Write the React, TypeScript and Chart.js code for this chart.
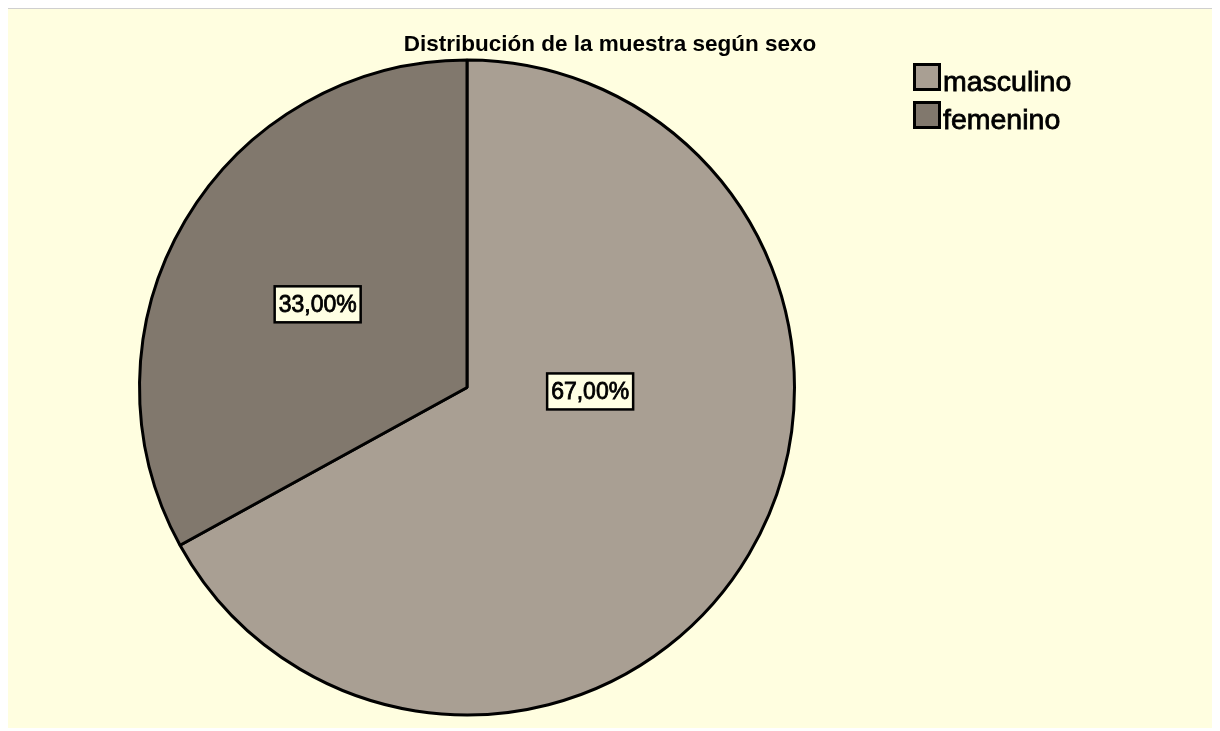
import React, { useEffect, useRef } from "react";
import { Chart, registerables } from "chart.js";

Chart.register(...registerables);

const categories = ["masculino", "femenino"];
const values = [67, 33];
const valueLabels = ["67,00%", "33,00%"];
const titleText = "Distribución de la muestra según sexo";

const sliceColors = ["#A99F93", "#81786D"];
const bgColor = "#FFFEE0";
// label anchor offsets in units of pie radius from the pie centre
const labelOffsets = [
  { dx: 0.376, dy: 0.012 },
  { dx: -0.456, dy: -0.254 },
];

const overlayPlugin = {
  id: "overlay",
  afterDatasetsDraw(chart: any) {
    const ctx = chart.ctx as CanvasRenderingContext2D;
    const meta = chart.getDatasetMeta(0);
    const arc0 = meta.data[0] as any;
    const cx = arc0.x;
    const cy = arc0.y;
    const r = arc0.outerRadius;
    ctx.save();
    // value labels
    ctx.font = "23px Arial, 'Liberation Sans', sans-serif";
    ctx.textAlign = "center";
    ctx.textBaseline = "middle";
    valueLabels.forEach((txt, i) => {
      const x = cx + labelOffsets[i].dx * r;
      const y = cy + labelOffsets[i].dy * r;
      const w = ctx.measureText(txt).width + 8;
      const h = 36;
      ctx.fillStyle = "#FFFFE3";
      ctx.fillRect(x - w / 2, y - h / 2, w, h);
      ctx.lineWidth = 2.5;
      ctx.strokeStyle = "#000";
      ctx.strokeRect(x - w / 2, y - h / 2, w, h);
      ctx.fillStyle = "#000";
      ctx.lineWidth = 0.8;
      ctx.fillText(txt, x, y + 1);
      ctx.strokeText(txt, x, y + 1);
    });
    // title
    ctx.font = "bold 22.5px Arial, 'Liberation Sans', sans-serif";
    ctx.textAlign = "center";
    ctx.textBaseline = "alphabetic";
    ctx.fillStyle = "#000";
    ctx.fillText(titleText, 602, 42);
    // legend
    ctx.font = "28.5px Arial, 'Liberation Sans', sans-serif";
    ctx.textAlign = "left";
    categories.forEach((c, i) => {
      const by = 54 + i * 38;
      ctx.fillStyle = sliceColors[i];
      ctx.fillRect(905, by, 28, 28);
      ctx.lineWidth = 3;
      ctx.strokeStyle = "#000";
      ctx.strokeRect(906.5, by + 1.5, 25, 25);
      ctx.fillStyle = "#000";
      ctx.lineWidth = 0.8;
      ctx.fillText(c, 935, by + 28);
      ctx.strokeText(c, 935, by + 28);
    });
    ctx.restore();
  },
};

export default function App() {
  const ref = useRef<HTMLCanvasElement | null>(null);
  useEffect(() => {
    if (!ref.current) return;
    const chart = new Chart(ref.current, {
      type: "pie",
      data: {
        labels: categories,
        datasets: [
          {
            data: values,
            backgroundColor: sliceColors,
            borderColor: "#000",
            borderWidth: 3,
          },
        ],
      },
      options: {
        animation: false,
        responsive: false,
        layout: { padding: { left: 130, top: 49, right: 419, bottom: 11 } },
        plugins: {
          legend: { display: false },
          title: { display: false },
          tooltip: { enabled: false },
        },
      },
      plugins: [overlayPlugin],
    });
    return () => chart.destroy();
  }, []);
  return (
    <div
      style={{
        width: 1207,
        height: 719,
        background: bgColor,
        borderTop: "1px solid #cfcfcf",
      }}
    >
      <canvas ref={ref} width={1207} height={719} style={{ display: "block" }} />
    </div>
  );
}
